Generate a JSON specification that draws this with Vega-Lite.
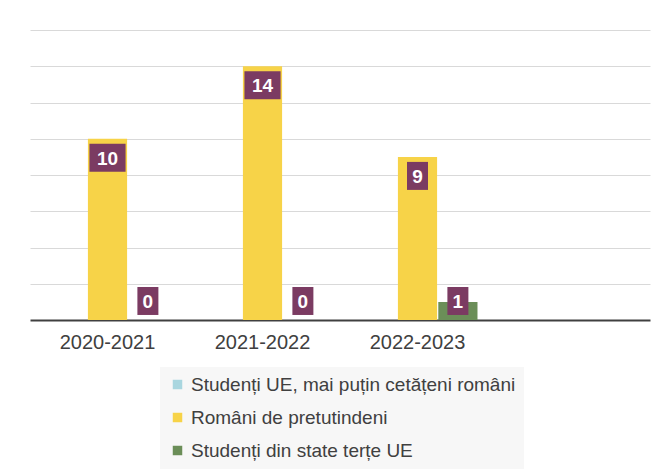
{
  "$schema": "https://vega.github.io/schema/vega-lite/v6.json",
  "width": 620,
  "height": 290,
  "padding": {"left": 30, "top": 30, "right": 10, "bottom": 0},
  "background": "white",
  "config": {
    "view": {"stroke": null},
    "font": "Liberation Sans"
  },
  "data": {
    "values": [
      {"an": "2020-2021", "serie": "Români de pretutindeni", "v": 10},
      {"an": "2020-2021", "serie": "Studenți din state terțe UE", "v": 0},
      {"an": "2021-2022", "serie": "Români de pretutindeni", "v": 14},
      {"an": "2021-2022", "serie": "Studenți din state terțe UE", "v": 0},
      {"an": "2022-2023", "serie": "Români de pretutindeni", "v": 9},
      {"an": "2022-2023", "serie": "Studenți din state terțe UE", "v": 1}
    ]
  },
  "encoding": {
    "x": {
      "field": "an",
      "type": "nominal",
      "sort": null,
      "scale": {"domain": ["2020-2021", "2021-2022", "2022-2023", " "], "paddingInner": 0.226, "paddingOuter": 0.113},
      "axis": {
        "title": null,
        "labelAngle": 0,
        "labelFontSize": 20,
        "labelColor": "#404040",
        "labelPadding": 12,
        "ticks": false,
        "domainColor": "#404040",
        "domainWidth": 2,
        "grid": false
      }
    },
    "xOffset": {
      "field": "serie",
      "type": "nominal",
      "scale": {"domain": ["Studenți UE, mai puțin cetățeni români", "Români de pretutindeni", "Studenți din state terțe UE"], "paddingInner": 0.03}
    }
  },
  "layer": [
    {
      "mark": {"type": "bar"},
      "encoding": {
        "y": {
          "field": "v",
          "type": "quantitative",
          "scale": {"domain": [0, 16], "nice": false},
          "axis": {
            "title": null,
            "values": [2, 4, 6, 8, 10, 12, 14, 16],
            "labels": false,
            "ticks": false,
            "domain": false,
            "grid": true,
            "gridColor": "#d9d9d9",
            "gridWidth": 1
          }
        },
        "color": {
          "field": "serie",
          "type": "nominal",
          "scale": {
            "domain": ["Studenți UE, mai puțin cetățeni români", "Români de pretutindeni", "Studenți din state terțe UE"],
            "range": ["#a9d6df", "#f7d348", "#6b8e58"]
          },
          "legend": {
            "title": null,
            "orient": "none",
            "legendX": 130,
            "legendY": 337,
            "direction": "vertical",
            "fillColor": "#f7f7f7",
            "padding": 8,
            "symbolType": "square",
            "symbolSize": 90,
            "symbolStrokeWidth": 0,
            "labelFontSize": 19,
            "labelColor": "#404040",
            "labelOffset": 4,
            "labelLimit": 400,
            "rowPadding": 13
          }
        }
      }
    },
    {
      "transform": [
        {"calculate": "datum.serie === 'Români de pretutindeni' ? datum.v - 1.05 : 1.05", "as": "lp"},
        {"calculate": "datum.v >= 10 ? 'two' : 'one'", "as": "digits"}
      ],
      "mark": {"type": "point", "filled": true, "opacity": 1, "color": "#7b3b62", "size": 784},
      "encoding": {
        "y": {"field": "lp", "type": "quantitative"},
        "shape": {
          "field": "digits",
          "type": "nominal",
          "scale": {"domain": ["one", "two"], "range": ["M-0.75,-1H0.75V1H-0.75Z", "M-1.29,-1H1.29V1H-1.29Z"]},
          "legend": null
        }
      }
    },
    {
      "transform": [
        {"calculate": "datum.serie === 'Români de pretutindeni' ? datum.v - 1.05 : 1.05", "as": "lp"}
      ],
      "mark": {"type": "text", "color": "white", "font": "Liberation Sans", "fontWeight": "bold", "fontSize": 19, "baseline": "middle", "dy": 1},
      "encoding": {
        "y": {"field": "lp", "type": "quantitative"},
        "text": {"field": "v", "type": "quantitative"}
      }
    }
  ]
}
